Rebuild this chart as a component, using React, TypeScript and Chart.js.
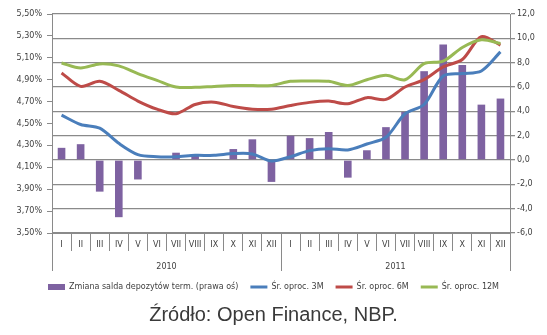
import React, { useEffect, useRef } from "react";
import { Chart, registerables } from "chart.js";

Chart.register(...registerables);

const months = ["I", "II", "III", "IV", "V", "VI", "VII", "VIII", "IX", "X", "XI", "XII",
  "I", "II", "III", "IV", "V", "VI", "VII", "VIII", "IX", "X", "XI", "XII"];
const years = ["2010", "2011"];

const depositChange = [1.0, 1.3, -2.6, -4.7, -1.6, 0.0, 0.6, 0.35, 0.0, 0.9, 1.7, -1.8,
  2.0, 1.8, 2.3, -1.45, 0.8, 2.7, 3.95, 7.3, 9.5, 7.8, 4.55, 5.05];
const rate3M = [4.576, 4.491, 4.457, 4.319, 4.216, 4.197, 4.197, 4.209, 4.209, 4.225, 4.222, 4.158,
  4.197, 4.252, 4.27, 4.259, 4.313, 4.374, 4.589, 4.674, 4.934, 4.956, 4.98, 5.154];
const rate6M = [4.962, 4.839, 4.885, 4.803, 4.705, 4.631, 4.589, 4.674, 4.695, 4.656, 4.631, 4.631,
  4.665, 4.693, 4.705, 4.68, 4.736, 4.72, 4.833, 4.9, 5.017, 5.084, 5.292, 5.216];
const rate12M = [5.053, 5.007, 5.044, 5.026, 4.956, 4.894, 4.833, 4.83, 4.839, 4.846, 4.846, 4.848,
  4.885, 4.888, 4.885, 4.848, 4.9, 4.94, 4.9, 5.047, 5.069, 5.194, 5.264, 5.231];

const seriesNames = [
  "Zmiana salda depozytów term. (prawa oś)",
  "Śr. oproc. 3M",
  "Śr. oproc. 6M",
  "Śr. oproc. 12M",
];
const sourceText = "Źródło: Open Finance, NBP.";

const GRID = "#8a8a8a";
const TEXT = "#404040";
const FONT = "'DejaVu Sans', sans-serif";

export default function App() {
  const ref = useRef<HTMLCanvasElement | null>(null);

  useEffect(() => {
    const canvas = ref.current;
    if (!canvas) return;
    const colors = ["#7E62A1", "#4A7EBB", "#BE4B48", "#98B954"];
    const lineDs = (label: string, data: number[], color: string, order: number) => ({
      type: "line" as const,
      label,
      data,
      yAxisID: "y",
      borderColor: color,
      backgroundColor: color,
      borderWidth: 3,
      pointRadius: 0,
      tension: 0.3,
      fill: false,
      order,
    });
    const chart = new Chart(canvas, {
      type: "bar",
      data: {
        labels: months,
        datasets: [
          {
            type: "bar",
            label: seriesNames[0],
            data: depositChange,
            yAxisID: "y1",
            backgroundColor: colors[0],
            borderWidth: 0,
            barPercentage: 0.4,
            categoryPercentage: 1,
            order: 10,
          } as any,
          lineDs(seriesNames[1], rate3M, colors[1], 3),
          lineDs(seriesNames[2], rate6M, colors[2], 2),
          lineDs(seriesNames[3], rate12M, colors[3], 1),
        ],
      },
      options: {
        animation: false,
        responsive: false,
        layout: { padding: { top: 14, left: 0, right: 0, bottom: 2 } },
        plugins: {
          tooltip: { enabled: false },
          legend: {
            position: "bottom",
            labels: {
              font: { family: FONT, size: 8 },
              color: TEXT,
              usePointStyle: true,
              pointStyleWidth: 17,
              boxHeight: 6,
              padding: 12,
              generateLabels: (ch: any) =>
                ch.data.datasets.map((ds: any, i: number) => ({
                  text: ds.label,
                  fillStyle: colors[i],
                  strokeStyle: colors[i],
                  lineWidth: i === 0 ? 0 : 3,
                  pointStyle: i === 0 ? "rect" : "line",
                  hidden: false,
                  datasetIndex: i,
                  fontColor: TEXT,
                })),
            },
          },
          title: {
            display: true,
            position: "bottom",
            text: sourceText,
            color: "#3a3a3a",
            font: { family: "'Liberation Sans', Arial, sans-serif", size: 20, weight: "normal" },
            padding: { top: 2, bottom: 6 },
          },
        },
        scales: {
          x: {
            type: "category",
            position: "bottom",
            weight: 0,
            offset: true,
            grid: { offset: true, drawOnChartArea: false, drawTicks: true, tickLength: 18, color: GRID, lineWidth: 1 },
            border: { display: true, color: GRID, width: 1 },
            ticks: {
              autoSkip: false,
              maxRotation: 0,
              minRotation: 0,
              padding: -11,
              color: TEXT,
              font: { family: FONT, size: 8 },
            },
            afterFit: (s: any) => { s.height = 18; },
          },
          x2: {
            type: "category",
            labels: years,
            position: "bottom",
            weight: 1,
            offset: true,
            grid: { offset: true, drawOnChartArea: false, drawTicks: true, tickLength: 20, color: GRID, lineWidth: 1 },
            border: { display: false },
            ticks: {
              autoSkip: false,
              maxRotation: 0,
              padding: -9,
              color: TEXT,
              font: { family: FONT, size: 8 },
            },
            afterFit: (s: any) => { s.height = 20; },
          },
          y: {
            type: "linear",
            position: "left",
            min: 3.5,
            max: 5.5,
            ticks: {
              stepSize: 0.2,
              color: TEXT,
              font: { family: FONT, size: 8 },
              padding: 5,
              callback: (v: any) => Number(v).toFixed(2).replace(".", ",") + "%",
            },
            grid: { drawOnChartArea: false, drawTicks: true, tickLength: 5, color: GRID },
            border: { display: true, color: GRID, width: 1 },
            afterFit: (s: any) => { s.width = 52; },
          },
          y1: {
            type: "linear",
            position: "right",
            min: -6,
            max: 12,
            ticks: {
              stepSize: 2,
              color: TEXT,
              font: { family: FONT, size: 8 },
              padding: 2,
              callback: (v: any) => Number(v).toFixed(1).replace(".", ","),
            },
            grid: { drawOnChartArea: true, drawTicks: true, tickLength: 5, color: GRID, lineWidth: 1.3 },
            border: { display: true, color: GRID, width: 1 },
            afterFit: (s: any) => { s.width = 37; },
          },
        },
      } as any,
    });
    return () => chart.destroy();
  }, []);

  return (
    <div style={{ position: "fixed", left: 0, top: 0, width: 547, height: 335, background: "#fff" }}>
      <canvas ref={ref} width={547} height={335} style={{ width: 547, height: 335 }} />
    </div>
  );
}
